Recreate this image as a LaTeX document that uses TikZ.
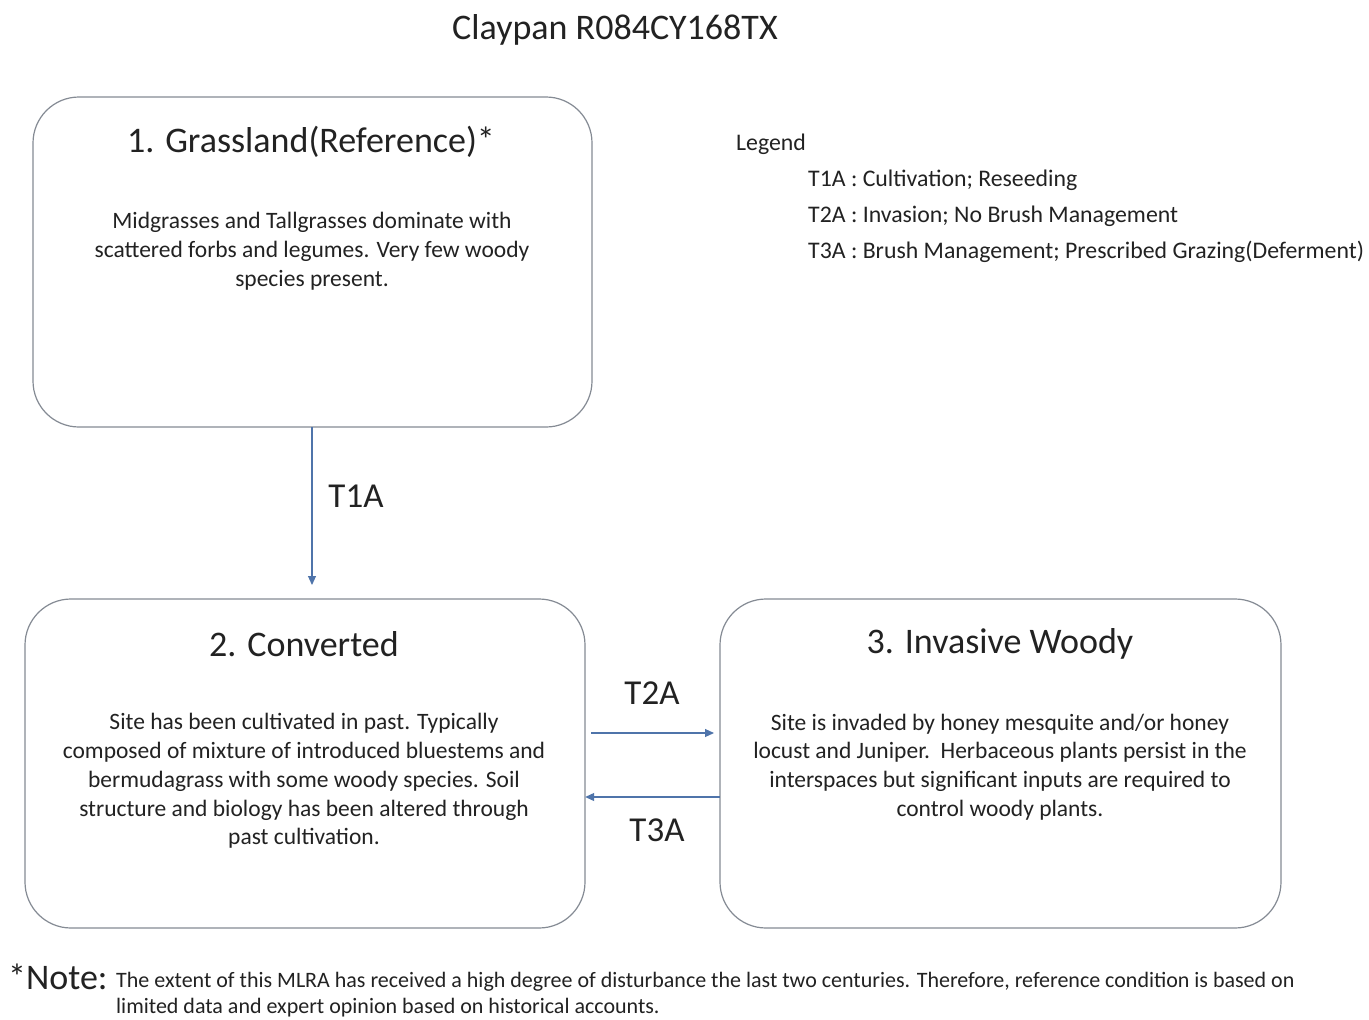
\documentclass[tikz,border=0pt]{standalone}
\usepackage{fontspec}
\setmainfont{Carlito}
\usetikzlibrary{arrows.meta}
\definecolor{boxgray}{HTML}{858B94}
\definecolor{arrblue}{HTML}{4F74AA}
\definecolor{txt}{HTML}{222222}
\tikzset{
  statebox/.style={draw=boxgray, line width=1.2pt, rounded corners=46pt, fill=white},
  conn/.style={draw=arrblue, line width=1.1pt, -{Triangle[length=9pt,width=8pt]}},
  ttl/.style={text=txt, font=\fontsize{36}{40}\selectfont, inner sep=0pt},
  body/.style={text=txt, align=center, font=\fontsize{23.5}{28.8}\selectfont, inner sep=0pt},
  lbl/.style={text=txt, font=\fontsize{35}{40}\selectfont, inner sep=0pt},
  leg/.style={text=txt, font=\fontsize{23.8}{28}\selectfont, inner sep=0pt, anchor=west},
  notetxt/.style={text=txt, anchor=west, inner sep=0pt, font=\fontsize{22}{26}\selectfont},
}
\begin{document}
\begin{tikzpicture}[x=1pt,y=-1pt]
\useasboundingbox (0,0) rectangle (1369,1020);
\fill[white] (0,0) rectangle (1369,1020);
% title
\node[ttl] (title) at (615,30) {Claypan R084CY168TX};
% boxes
\draw[statebox] (33,97) rectangle (592,427);
\node[inner sep=0pt, minimum width=559pt, minimum height=330pt] (b1) at (312.5,262) {};
\draw[statebox] (25,599) rectangle (585,928);
\node[inner sep=0pt, minimum width=560pt, minimum height=329pt] (b2) at (305,763.5) {};
\draw[statebox] (720,599) rectangle (1281,928);
\node[inner sep=0pt, minimum width=561pt, minimum height=329pt] (b3) at (1000.5,763.5) {};
% box titles
\node[ttl] (t1) at (311,142) {1. Grassland(Reference)*};
\node[ttl] (t2) at (304,644) {2. Converted};
\node[ttl] (t3) at (1000,644) {3. Invasive Woody};
% box bodies
\node[body] (d1) at (312,251) {Midgrasses and Tallgrasses dominate with\\scattered forbs and legumes. Very few woody\\species present.};
\node[body] (d2) at (304,781) {Site has been cultivated in past. Typically\\composed of mixture of introduced bluestems and\\bermudagrass with some woody species. Soil\\structure and biology has been altered through\\past cultivation.};
\node[body] (d3) at (1000,767) {Site is invaded by honey mesquite and/or honey\\locust and Juniper.\ \ Herbaceous plants persist in the\\interspaces but significant inputs are required to\\control woody plants.};
% connectors
\coordinate (a1e) at (312,585);
\draw[conn] (b1.south -| a1e) -- (a1e);
\node[lbl] (l1) at (356,496) {T1A};
\coordinate (a2s) at (591,733);
\coordinate (a2e) at (714,733);
\draw[conn] (a2s) -- (a2e);
\node[lbl] (l2) at (652,693) {T2A};
\draw[conn] (b3.west |- 0,797) -- (b2.east |- 0,797);
\node[lbl] (l3) at (657,830) {T3A};
% legend
\node[leg] (lg) at (736,144) {Legend};
\node[leg] (lg1) at (808,180) {T1A : Cultivation; Reseeding};
\node[leg] (lg2) at (808,216) {T2A : Invasion; No Brush Management};
\node[leg] (lg3) at (808,252) {T3A : Brush Management; Prescribed Grazing(Deferment)};
% note
\node[text=txt, anchor=west, inner sep=0pt, font=\fontsize{36}{40}\selectfont] (nt) at (8,977) {*Note:};
\node[notetxt] (n1) at (116,982) {The extent of this MLRA has received a high degree of disturbance the last two centuries. Therefore, reference condition is based on};
\node[notetxt] (n2) at (116,1008) {limited data and expert opinion based on historical accounts.};
\end{tikzpicture}
\end{document}
